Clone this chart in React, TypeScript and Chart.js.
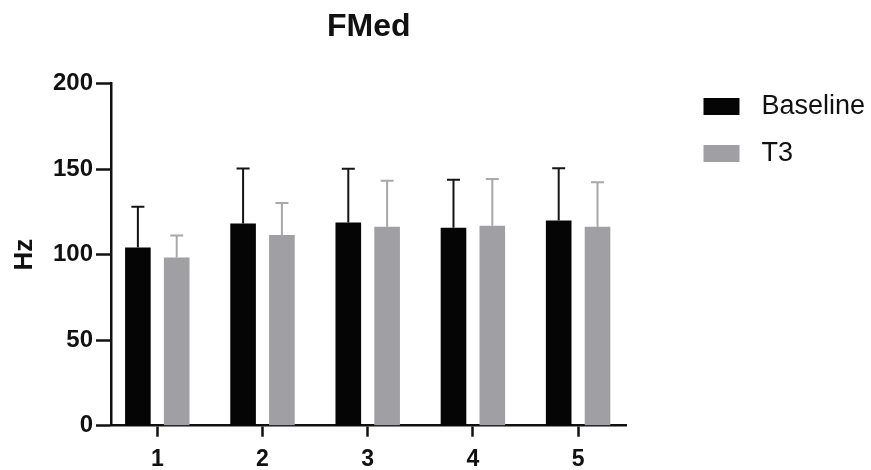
import React, { useEffect, useRef } from "react";
import { Chart, registerables } from "chart.js";

Chart.register(...registerables);

const title = "FMed";
const yAxisTitle = "Hz";
const categories = ["1", "2", "3", "4", "5"];
const seriesNames = ["Baseline", "T3"];
const baselineMeans = [104.2, 118.2, 118.8, 115.7, 120.0];
const baselineSD = [23.8, 32.2, 31.4, 28.1, 30.6];
const t3Means = [98.3, 111.5, 116.4, 116.9, 116.4];
const t3SD = [12.9, 18.7, 26.8, 27.3, 26.0];
const yTicks = [0, 50, 100, 150, 200];

const BLACK = "#050505";
const GREY = "#a0a0a4";
const FONT = "'Liberation Sans', Arial, Helvetica, sans-serif";

const errorBarPlugin = {
  id: "errorBars",
  afterDatasetsDraw(chart: any) {
    const ctx = chart.ctx;
    const yScale = chart.scales.y;
    chart.data.datasets.forEach((ds: any, di: number) => {
      const meta = chart.getDatasetMeta(di);
      if (meta.hidden) return;
      meta.data.forEach((el: any, i: number) => {
        const v = ds.data[i].y;
        const sd = ds.errors[i];
        const yTop = yScale.getPixelForValue(v + sd);
        ctx.save();
        ctx.strokeStyle = ds.errorColor;
        ctx.lineWidth = 2;
        ctx.beginPath();
        ctx.moveTo(el.x, el.y);
        ctx.lineTo(el.x, yTop);
        ctx.moveTo(el.x - 6.5, yTop);
        ctx.lineTo(el.x + 6.5, yTop);
        ctx.stroke();
        ctx.restore();
      });
    });
  },
};

const legendPlugin = {
  id: "customLegend",
  afterDraw(chart: any) {
    const ctx = chart.ctx;
    const x0 = chart.chartArea.right + 77;
    const y0 = 98;
    chart.data.datasets.forEach((ds: any, i: number) => {
      const y = y0 + i * 47;
      ctx.save();
      ctx.fillStyle = ds.backgroundColor;
      ctx.fillRect(x0, y, 36, 17);
      ctx.fillStyle = "#111";
      ctx.font = `27px ${FONT}`;
      ctx.textBaseline = "middle";
      ctx.textAlign = "left";
      ctx.fillText(ds.label, x0 + 58, y + 9);
      ctx.restore();
    });
  },
};

export default function App() {
  const ref = useRef<HTMLCanvasElement | null>(null);
  useEffect(() => {
    if (!ref.current) return;
    const chart = new Chart(ref.current, {
      type: "bar",
      data: {
        datasets: [
          {
            label: seriesNames[0],
            data: baselineMeans.map((v, i) => ({ x: i + 1, y: v })),
            backgroundColor: BLACK,
            errors: baselineSD,
            errorColor: "#151515",
          } as any,
          {
            label: seriesNames[1],
            data: t3Means.map((v, i) => ({ x: i + 1, y: v })),
            backgroundColor: GREY,
            errors: t3SD,
            errorColor: "#a8a8ab",
          } as any,
        ],
      },
      options: {
        animation: false,
        responsive: false,
        categoryPercentage: 0.738,
        barPercentage: 0.66,
        layout: { padding: { left: 0, right: 244.5, top: 0, bottom: 0 } },
        plugins: {
          legend: { display: false },
          tooltip: { enabled: false },
          title: {
            display: true,
            text: title,
            fullSize: false,
            color: "#111",
            font: { family: FONT, size: 32, weight: "bold" },
            padding: { top: 8, bottom: 37.3 },
          },
        },
        scales: {
          x: {
            type: "linear",
            min: 0.56,
            max: 5.46,
            offset: false,
            grid: {
              offset: false,
              drawOnChartArea: false,
              drawTicks: true,
              tickLength: 11,
              tickWidth: 2.5,
              tickColor: "#111",
            },
            border: { display: true, color: "#111", width: 2.5 },
            ticks: {
              stepSize: 1,
              includeBounds: false,
              color: "#111",
              padding: 9,
              font: { family: FONT, size: 23, weight: "bold" },
              callback: (v: any) => categories[Number(v) - 1] ?? "",
            },
            afterFit: (s: any) => {
              s.height = 44.3;
            },
          },
          y: {
            min: 0,
            max: 200,
            afterBuildTicks: (s: any) => {
              s.ticks = yTicks.map((v) => ({ value: v }));
            },
            grid: {
              drawOnChartArea: false,
              drawTicks: true,
              tickLength: 15,
              tickWidth: 2.5,
              tickColor: "#111",
            },
            border: { display: true, color: "#111", width: 2.5 },
            ticks: {
              color: "#111",
              padding: 3,
              font: { family: FONT, size: 24, weight: "bold" },
            },
            title: {
              display: true,
              text: yAxisTitle,
              color: "#111",
              font: { family: FONT, size: 26, weight: "bold" },
              padding: { top: 9.4, bottom: 0 },
            },
            afterFit: (s: any) => {
              s.width = 111;
            },
          },
        },
      } as any,
      plugins: [errorBarPlugin, legendPlugin],
    });
    return () => chart.destroy();
  }, []);
  return (
    <div style={{ position: "fixed", left: 0, top: 0, width: 871, height: 470, background: "#fff" }}>
      <canvas ref={ref} width={871} height={470} />
    </div>
  );
}
